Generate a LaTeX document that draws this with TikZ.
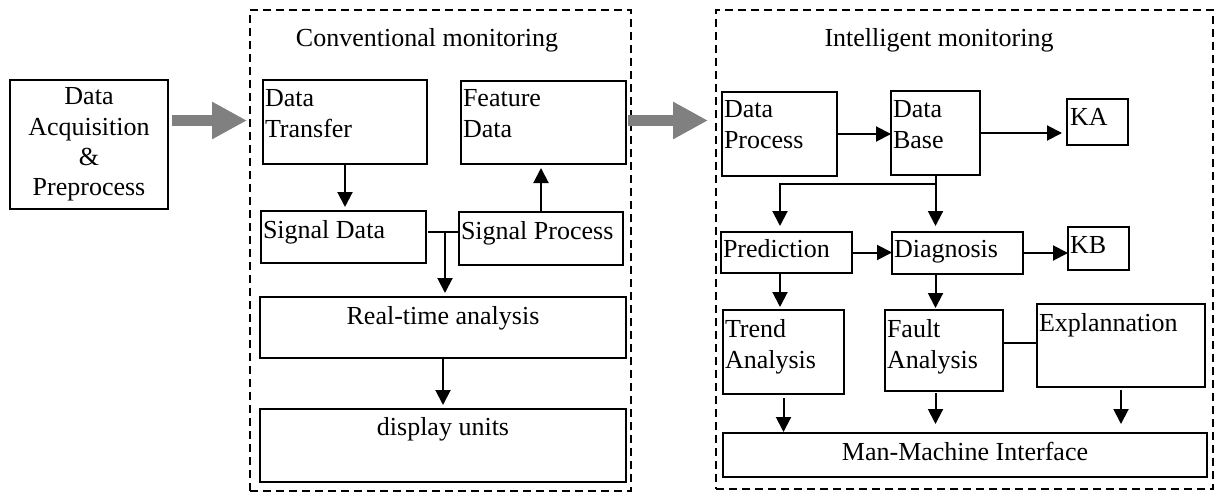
\documentclass[tikz,border=0pt]{standalone}
\usepackage{fontspec}
\setmainfont{Liberation Serif}
\usetikzlibrary{arrows.meta}
\definecolor{arrowgray}{HTML}{808080}
\newcommand\tallstrut{\rule{0pt}{18pt}}
\begin{document}
\begin{tikzpicture}[x=1pt,y=-1pt,
  box/.style={draw, line width=2.2pt, inner sep=0pt, outer sep=0pt, rectangle},
  grp/.style={draw, line width=1.6pt, dash pattern=on 8pt off 5pt, inner sep=0pt, outer sep=0pt, rectangle},
  lbl/.style={inner sep=0pt, outer sep=0pt, font=\fontsize{26}{31}\selectfont, align=left, anchor=north west},
  ctr/.style={inner sep=0pt, outer sep=0pt, font=\fontsize{26}{31}\selectfont},
  arr/.style={line width=2pt, -{Triangle[length=15pt,width=15pt]}},
  ln/.style={line width=2pt},
  big/.style={line width=11pt, draw=arrowgray, -{Triangle[length=35pt,width=35pt]}}
]
\useasboundingbox (0,0) rectangle (1220,492);

% left input box
\node[box, minimum width=158pt, minimum height=129pt, font=\fontsize{26}{30.3}\selectfont, align=center] (dap) at (89,144.5) {Data\\Acquisition\\\&\\Preprocess};

% conventional monitoring group
\node[grp, minimum width=381pt, minimum height=481pt] (cm) at (440.5,250.5) {};
\node[ctr, anchor=base] (cmt) at (427,47) {Conventional monitoring};

\node[box, minimum width=164pt, minimum height=84pt] (dt) at (345,122) {};
\node[lbl] (dtt) at ([shift={(2,9)}]dt.north west) {\tallstrut Data\\Transfer};
\node[box, minimum width=165pt, minimum height=83pt] (fd) at (543.5,122.5) {};
\node[lbl] (fdt) at ([shift={(2,8)}]fd.north west) {\tallstrut Feature\\Data};
\node[box, minimum width=165pt, minimum height=52pt] (sd) at (343.5,237) {};
\node[lbl] (sdt) at ([shift={(2,9)}]sd.north west) {\tallstrut Signal Data};
\node[box, minimum width=164pt, minimum height=53pt] (sp) at (541,238.5) {};
\node[lbl] (spt) at ([shift={(2,9)}]sp.north west) {\tallstrut Signal Process};
\node[box, minimum width=366pt, minimum height=61pt] (rta) at (443,327.5) {};
\node[ctr, anchor=base] (rtat) at ([yshift=-27pt]rta.north) {Real-time analysis};
\node[box, minimum width=366pt, minimum height=73pt] (du) at (443,445.5) {};
\node[ctr, anchor=base] (dut) at ([yshift=-26pt]du.north) {display units};

% intelligent monitoring group
\node[grp, minimum width=497pt, minimum height=479pt] (im) at (964.5,249.5) {};
\node[ctr, anchor=base] (imt) at (939,47) {Intelligent monitoring};

\node[box, minimum width=115pt, minimum height=84pt] (dp) at (779.5,134) {};
\node[lbl] (dpt) at ([shift={(2,7)}]dp.north west) {\tallstrut Data\\Process};
\node[box, minimum width=89pt, minimum height=84pt] (db) at (935.5,133) {};
\node[lbl] (dbt) at ([shift={(2,8)}]db.north west) {\tallstrut Data\\Base};
\node[box, minimum width=61pt, minimum height=46pt] (ka) at (1097.5,122) {};
\node[lbl] (kat) at ([shift={(3,9)}]ka.north west) {\tallstrut KA};
\node[box, minimum width=131pt, minimum height=41pt] (pr) at (786.5,252.5) {};
\node[lbl] (prt) at ([shift={(2,7)}]pr.north west) {\tallstrut Prediction};
\node[box, minimum width=131pt, minimum height=42pt] (dg) at (957.5,253) {};
\node[lbl] (dgt) at ([shift={(2,7)}]dg.north west) {\tallstrut Diagnosis};
\node[box, minimum width=61pt, minimum height=43pt] (kb) at (1098.5,248.5) {};
\node[lbl] (kbt) at ([shift={(2,8)}]kb.north west) {\tallstrut KB};
\node[box, minimum width=121pt, minimum height=84pt] (ta) at (783.5,352) {};
\node[lbl] (tat) at ([shift={(2,9)}]ta.north west) {\tallstrut Trend\\Analysis};
\node[box, minimum width=118pt, minimum height=81pt] (fa) at (944,350.5) {};
\node[lbl] (fat) at ([shift={(2,9)}]fa.north west) {\tallstrut Fault\\Analysis};
\node[box, minimum width=168pt, minimum height=83pt] (ex) at (1121,345.5) {};
\node[lbl] (ext) at ([shift={(2,9)}]ex.north west) {\tallstrut Explannation};
\node[box, minimum width=484pt, minimum height=44pt] (mmi) at (965,455) {};
\node[ctr, anchor=base] (mmit) at ([yshift=-27pt]mmi.north) {Man-Machine Interface};

% big gray arrows
\draw[big] ([shift={(4,-24)}]dap.east) -- ([shift={(-3,-24)}]dap.east -| cm.west);
\draw[big] ([shift={(2,-2)}]fd.east) -- ([shift={(-8,-2)}]fd.east -| im.west);

% conventional connectors
\coordinate (j1) at (445,232);
\draw[arr, shorten >=4pt] (dt.south) -- (dt.south |- sd.north);
\draw[arr, shorten >=4pt] (sp.north) -- (sp.north |- fd.south);
\draw[ln] ([xshift=2pt]sd.east |- j1) -- (sp.west |- j1);
\draw[arr, shorten >=4pt] (j1) -- (j1 |- rta.north);
\draw[arr, shorten >=4pt] (rta.south) -- (du.north);

% intelligent connectors
\coordinate (j2) at (780,184);
\draw[arr] (dp.east) -- (dp.east -| db.west);
\draw[arr, shorten >=5pt] (db.east) -- (db.east -| ka.west);
\draw[arr, shorten >=6pt] (db.south) -- (db.south |- dg.north);
\draw[arr, shorten >=6pt] (db.south |- j2) -- (j2) -- (j2 |- pr.north);
\draw[arr] (pr.east) -- (pr.east -| dg.west);
\draw[arr] (dg.east) -- (dg.east -| kb.west);
\draw[arr, shorten >=3pt] (j2 |- pr.south) -- (j2 |- ta.north);
\draw[arr, shorten >=2pt] (db.south |- dg.south) -- (db.south |- fa.north);
\draw[ln] ([yshift=3pt]ex.west) -- ([yshift=3pt]ex.west -| fa.east);
\draw[arr, shorten <=4pt, shorten >=1pt] (ta.south) -- (ta.south |- mmi.north);
\draw[arr, shorten <=2pt, shorten >=9pt] (db.south |- fa.south) -- (db.south |- mmi.north);
\draw[arr, shorten <=3pt, shorten >=9pt] (ex.south) -- (ex.south |- mmi.north);
\end{tikzpicture}
\end{document}
